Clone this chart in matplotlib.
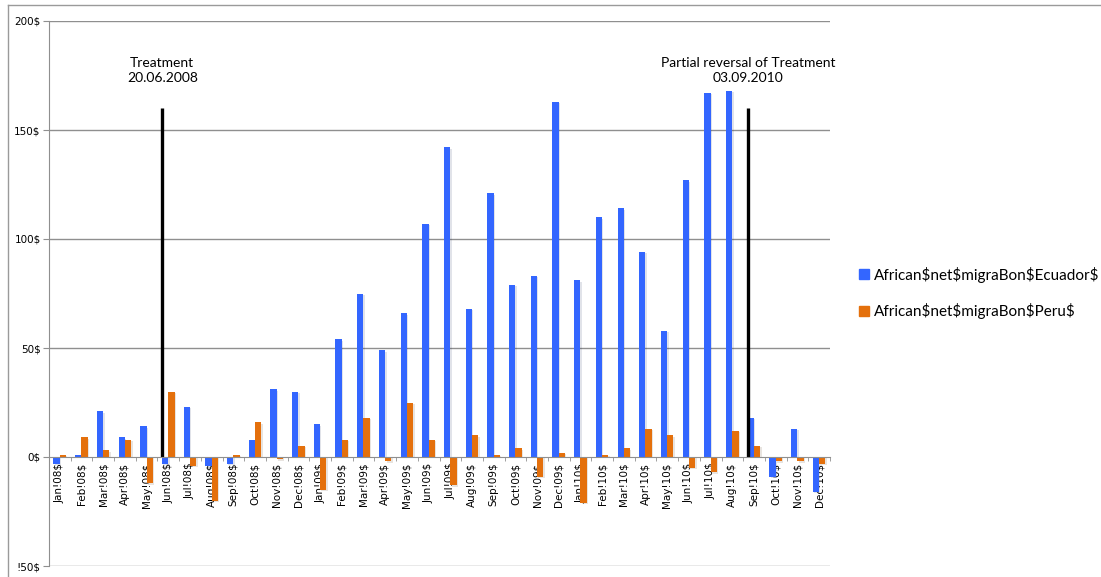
import matplotlib
matplotlib.use("Agg")
import matplotlib.pyplot as plt
import matplotlib.patheffects as pe
import numpy as np
from matplotlib.lines import Line2D
from matplotlib.patches import Patch

plt.rcParams["text.parse_math"] = False

months = ["Jan", "Feb", "Mar", "Apr", "May", "Jun",
          "Jul", "Aug", "Sep", "Oct", "Nov", "Dec"]
years = ["08", "09", "10"]
labels = [f"{m}!{y}$" for y in years for m in months]

ecuador = [-3, 1, 21, 9, 14, -3, 23, -4, -3, 8, 31, 30,
           15, 54, 75, 49, 66, 107, 142, 68, 121, 79, 83, 163,
           81, 110, 114, 94, 58, 127, 167, 168, 18, -9, 13, -16]
peru = [1, 9, 3, 8, -12, 30, -4, -20, 1, 16, -1, 5,
        -15, 8, 18, -2, 25, 8, -13, 10, 1, 4, -9, 2,
        -21, 1, 4, 13, 10, -5, -7, 12, 5, -2, -2, -3]

series_names = ["African$net$migraBon$Ecuador$", "African$net$migraBon$Peru$"]
yticks = [-50, 0, 50, 100, 150, 200]
ytick_labels = ["!50$", "0$", "50$", "100$", "150$", "200$"]

events = [(4.72, "Treatment\n20.06.2008"),
          (31.72, "Partial reversal of Treatment\n03.09.2010")]

BLUE = "#3366ff"
ORANGE = "#e4700c"
GRID = "#8f8f8f"

fig = plt.figure(figsize=(11.01, 5.77), dpi=100)
ax = fig.add_axes([49 / 1101, 1 - 566 / 577, 781 / 1101, 545 / 577])

x = np.arange(len(labels))
w = 0.29
shadow = [pe.SimplePatchShadow(offset=(1, -1), alpha=0.12), pe.Normal()]
b1 = ax.bar(x - 0.15, ecuador, width=w, color=BLUE, zorder=3)
b2 = ax.bar(x + 0.14, peru, width=w, color=ORANGE, zorder=3)
for b in list(b1) + list(b2):
    b.set_path_effects(shadow)

for pos, txt in events:
    ax.plot([pos, pos], [0, 160], color="black", lw=2.4, zorder=4,
            solid_capstyle="butt")
    ax.text(pos, 177.5, txt, ha="center", va="center", fontsize=10,
            family="Lato", linespacing=1.3)

ax.set_xlim(-0.5, len(labels) - 0.5)
ax.set_ylim(-50, 200)

for v in [50, 100, 150, 200, -50]:
    ax.axhline(v, color=GRID, lw=1, zorder=1)

for s in ["top", "right"]:
    ax.spines[s].set_visible(False)
ax.spines["left"].set_color(GRID)
ax.spines["bottom"].set_position(("data", 0))
ax.spines["bottom"].set_color(GRID)
ax.spines["bottom"].set_zorder(5)

ax.set_yticks(yticks)
ax.set_yticklabels(ytick_labels, fontsize=7.5)
ax.tick_params(axis="y", length=4, color=GRID, pad=2)

ax.set_xticks(x)
ax.set_xticklabels(labels, rotation=90, fontsize=7.5)
ax.set_xticks(np.arange(len(labels) + 1) - 0.5, minor=True)
ax.tick_params(axis="x", which="major", length=0, pad=4)
ax.tick_params(axis="x", which="minor", length=3, color=GRID)

handles = [Patch(color=BLUE), Patch(color=ORANGE)]
fig.legend(handles, series_names, loc="center left",
           bbox_to_anchor=(853 / 1101, 1 - 293 / 577), frameon=False,
           prop={"family": "Lato", "size": 11}, handlelength=0.65,
           handleheight=0.65, handletextpad=0.35, labelspacing=1.35,
           borderaxespad=0)

fc = "#9a9a9a"
fig.add_artist(Line2D([8 / 1101, 1], [1 - 5 / 577, 1 - 5 / 577],
                      transform=fig.transFigure, color=fc, lw=1))
fig.add_artist(Line2D([8 / 1101, 8 / 1101], [0, 1 - 5 / 577],
                      transform=fig.transFigure, color=fc, lw=1))

fig.savefig("out.png", dpi=100)
